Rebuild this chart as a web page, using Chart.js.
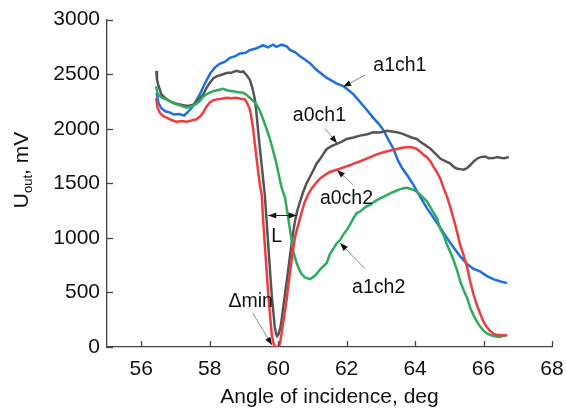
<!DOCTYPE html>
<html><head><meta charset="utf-8">
<script src="https://cdn.jsdelivr.net/npm/chart.js@4.4.0/dist/chart.umd.min.js"></script>
<style>html,body{margin:0;padding:0;background:#fff}#wrap{width:566px;height:414px}</style>
</head><body><div id="wrap"><canvas id="c" width="566" height="414"></canvas></div>
<script>
const xTicks = [56, 58, 60, 62, 64, 66, 68];
const yTicks = [0, 500, 1000, 1500, 2000, 2500, 3000];

const a1ch1X = [56.45,56.50,56.58,56.70,56.83,56.95,57.12,57.25,57.35,57.47,57.61,57.72,57.82,57.92,58.02,58.15,58.29,58.45,58.59,58.75,58.88,59.05,59.17,59.35,59.56,59.70,59.85,59.95,60.10,60.25,60.34,60.50,60.64,60.80,60.93,61.10,61.22,61.40,61.51,61.70,61.90,62.05,62.20,62.35,62.49,62.65,62.78,62.95,63.08,63.22,63.37,63.50,63.62,63.80,63.95,64.15,64.35,64.55,64.74,64.93,65.13,65.32,65.52,65.71,65.91,66.10,66.30,66.50,66.69];
const a1ch1Y = [2330,2240,2190,2160,2150,2130,2135,2120,2150,2190,2260,2320,2390,2450,2510,2560,2595,2615,2650,2665,2690,2695,2720,2735,2765,2745,2770,2750,2770,2755,2725,2700,2665,2630,2600,2545,2515,2470,2450,2415,2390,2355,2315,2260,2210,2150,2100,2040,1985,1900,1815,1710,1640,1560,1485,1375,1270,1180,1090,1000,910,830,760,715,690,650,620,600,585];

const a0ch1X = [56.44,56.46,56.50,56.59,56.70,56.83,56.95,57.12,57.30,57.42,57.52,57.61,57.72,57.81,57.90,58.00,58.10,58.20,58.35,58.49,58.65,58.78,58.90,58.98,59.08,59.17,59.25,59.32,59.37,59.42,59.47,59.52,59.57,59.61,59.66,59.71,59.76,59.81,59.86,59.90,59.94,59.97,60.01,60.06,60.10,60.15,60.20,60.25,60.29,60.34,60.39,60.44,60.49,60.56,60.64,60.73,60.83,60.93,61.03,61.12,61.22,61.32,61.42,61.56,61.71,61.85,62.00,62.20,62.39,62.60,62.78,62.98,63.18,63.32,63.47,63.62,63.76,63.90,64.05,64.15,64.30,64.44,64.60,64.74,64.90,65.03,65.13,65.23,65.32,65.42,65.52,65.61,65.71,65.81,65.91,66.05,66.15,66.30,66.40,66.49,66.60,66.74];
const a0ch1Y = [2530,2450,2400,2314,2280,2254,2235,2223,2210,2214,2220,2240,2280,2314,2370,2420,2460,2480,2495,2510,2515,2530,2520,2525,2490,2450,2370,2270,2130,1967,1810,1665,1510,1393,1170,940,710,487,320,184,120,100,115,170,245,370,487,600,698,820,940,1050,1151,1250,1332,1420,1500,1560,1620,1680,1720,1770,1815,1840,1861,1880,1906,1920,1937,1950,1967,1965,1982,1975,1967,1955,1937,1920,1906,1880,1850,1820,1770,1725,1700,1680,1650,1634,1630,1625,1640,1665,1700,1725,1740,1746,1730,1731,1740,1734,1730,1740];

const a0ch2X = [56.44,56.47,56.54,56.63,56.73,56.88,57.03,57.18,57.32,57.47,57.61,57.71,57.81,57.90,58.00,58.10,58.20,58.35,58.49,58.63,58.78,58.90,59.03,59.10,59.17,59.22,59.27,59.32,59.37,59.42,59.47,59.52,59.56,59.61,59.66,59.71,59.76,59.81,59.86,59.90,59.95,60.00,60.05,60.10,60.15,60.20,60.25,60.29,60.34,60.39,60.44,60.49,60.56,60.64,60.71,60.78,60.88,60.98,61.10,61.22,61.36,61.51,61.66,61.81,61.95,62.10,62.20,62.34,62.50,62.69,62.88,63.08,63.28,63.47,63.62,63.76,63.90,64.05,64.15,64.25,64.35,64.45,64.54,64.64,64.74,64.84,64.93,65.03,65.13,65.23,65.32,65.42,65.52,65.61,65.71,65.81,65.91,66.00,66.10,66.20,66.30,66.40,66.49,66.60,66.69];
const a0ch2Y = [2284,2200,2148,2120,2103,2080,2064,2070,2064,2075,2087,2110,2148,2200,2239,2260,2269,2275,2284,2280,2284,2275,2269,2230,2178,2100,1996,1860,1725,1600,1480,1393,1170,940,710,487,300,124,40,0,0,0,30,124,230,335,440,547,670,788,900,1000,1090,1181,1260,1332,1400,1453,1500,1543,1575,1604,1620,1634,1650,1665,1680,1695,1715,1740,1765,1785,1800,1815,1825,1831,1830,1815,1790,1760,1740,1700,1650,1600,1540,1450,1380,1280,1170,1050,930,840,730,600,480,380,300,230,180,145,120,110,109,105,110];

const a1ch2X = [56.44,56.47,56.54,56.63,56.73,56.88,57.03,57.18,57.32,57.42,57.51,57.61,57.71,57.80,57.90,58.00,58.10,58.25,58.39,58.53,58.68,58.83,58.98,59.08,59.17,59.27,59.37,59.47,59.56,59.66,59.76,59.86,59.95,60.03,60.10,60.20,60.27,60.34,60.44,60.52,60.59,60.68,60.78,60.93,61.02,61.12,61.22,61.32,61.42,61.51,61.61,61.71,61.81,61.90,62.00,62.10,62.20,62.30,62.39,62.50,62.59,62.69,62.80,62.98,63.10,63.27,63.40,63.57,63.66,63.76,63.85,63.95,64.05,64.15,64.25,64.35,64.45,64.54,64.64,64.74,64.84,64.93,65.03,65.13,65.23,65.32,65.42,65.52,65.61,65.71,65.81,65.91,66.00,66.10,66.20,66.30,66.39,66.50,66.60,66.69];
const a1ch2Y = [2390,2330,2299,2280,2269,2245,2223,2210,2193,2200,2209,2230,2254,2290,2314,2330,2344,2355,2365,2350,2344,2335,2329,2310,2284,2255,2223,2160,2087,2000,1906,1790,1680,1560,1460,1370,1230,1090,879,790,728,670,637,622,640,668,710,740,770,849,900,950,980,1030,1070,1121,1180,1230,1240,1270,1290,1302,1330,1362,1380,1408,1425,1447,1455,1459,1450,1440,1423,1395,1365,1332,1280,1230,1181,1080,1020,940,870,790,700,600,520,450,360,290,230,184,150,124,110,100,94,95,105,109];

function pts(xs, ys) { return xs.map((x, i) => ({ x: x, y: ys[i] })); }

const FONT = '"Liberation Sans", Arial, Helvetica, sans-serif';

// annotations in data coordinates
const labels = [
  { text: 'a1ch1', x: 62.78, y: 2574, from: [62.54, 2492], to: [61.90, 2384] },
  { text: 'a0ch1', x: 60.43, y: 2121, from: [61.37, 2003], to: [61.72, 1867] },
  { text: 'a0ch2', x: 61.22, y: 1359, from: [62.19, 1486], to: [61.72, 1622] },
  { text: 'a1ch2', x: 62.16, y: 544, from: [62.54, 716], to: [61.81, 952] },
  { text: '\u0394min', x: 58.55, y: 417, from: [59.26, 308], to: [59.82, 18] }
];
const lMark = { text: 'L', x: 59.96, y: 1015, y0: 1205, x0: 59.71, x1: 60.54 };

function arrowHead(ctx, x1, y1, x2, y2) {
  const a = Math.atan2(y2 - y1, x2 - x1);
  const L = 8, W = 3;
  ctx.beginPath();
  ctx.moveTo(x2, y2);
  ctx.lineTo(x2 - L * Math.cos(a) + W * Math.sin(a), y2 - L * Math.sin(a) - W * Math.cos(a));
  ctx.lineTo(x2 - L * Math.cos(a) - W * Math.sin(a), y2 - L * Math.sin(a) + W * Math.cos(a));
  ctx.closePath();
  ctx.fillStyle = '#111';
  ctx.fill();
}

const decorPlugin = {
  id: 'decor',
  afterDraw(chart) {
    const ctx = chart.ctx;
    const xs = chart.scales.x, ys = chart.scales.y;
    const area = chart.chartArea;
    ctx.save();
    // inward ticks
    ctx.strokeStyle = '#444';
    ctx.lineWidth = 1.3;
    xTicks.forEach(v => {
      const px = Math.round(xs.getPixelForValue(v)) + 0.5;
      ctx.beginPath(); ctx.moveTo(px, area.bottom); ctx.lineTo(px, area.bottom - 6); ctx.stroke();
    });
    yTicks.forEach(v => {
      const py = Math.round(ys.getPixelForValue(v)) + 0.5;
      ctx.beginPath(); ctx.moveTo(area.left, py); ctx.lineTo(area.left + 6, py); ctx.stroke();
    });
    // y title with subscript
    ctx.fillStyle = '#111';
    ctx.translate(28, 170);
    ctx.rotate(-Math.PI / 2);
    ctx.textBaseline = 'alphabetic';
    ctx.textAlign = 'left';
    const big = '21px ' + FONT, small = '13px ' + FONT;
    ctx.font = big; const wU = ctx.measureText('U').width;
    ctx.font = small; const wO = ctx.measureText('out').width;
    ctx.font = big; const wR = ctx.measureText(', mV').width;
    let sx = -(wU + wO + wR) / 2;
    ctx.font = big; ctx.fillText('U', sx, 0); sx += wU;
    ctx.font = small; ctx.fillText('out', sx, 4); sx += wO;
    ctx.font = big; ctx.fillText(', mV', sx, 0);
    ctx.restore();

    // annotations
    ctx.save();
    ctx.font = '19.5px ' + FONT;
    ctx.fillStyle = '#111';
    ctx.textBaseline = 'middle';
    ctx.textAlign = 'left';
    labels.forEach(l => {
      ctx.fillText(l.text, xs.getPixelForValue(l.x), ys.getPixelForValue(l.y));
      const x1 = xs.getPixelForValue(l.from[0]), y1 = ys.getPixelForValue(l.from[1]);
      const x2 = xs.getPixelForValue(l.to[0]), y2 = ys.getPixelForValue(l.to[1]);
      ctx.strokeStyle = '#8a8a8a'; ctx.lineWidth = 1;
      ctx.beginPath(); ctx.moveTo(x1, y1); ctx.lineTo(x2, y2); ctx.stroke();
      arrowHead(ctx, x1, y1, x2, y2);
    });
    ctx.textAlign = 'center';
    ctx.fillText(lMark.text, xs.getPixelForValue(lMark.x), ys.getPixelForValue(lMark.y));
    const lx0 = xs.getPixelForValue(lMark.x0), lx1 = xs.getPixelForValue(lMark.x1), ly = ys.getPixelForValue(lMark.y0);
    ctx.strokeStyle = '#222'; ctx.lineWidth = 1;
    ctx.beginPath(); ctx.moveTo(lx0, ly); ctx.lineTo(lx1, ly); ctx.stroke();
    arrowHead(ctx, (lx0 + lx1) / 2, ly, lx0, ly);
    arrowHead(ctx, (lx0 + lx1) / 2, ly, lx1, ly);
    ctx.restore();
  }
};

const common = { showLine: true, pointRadius: 0, borderWidth: 2.5, fill: false, tension: 0 };

new Chart(document.getElementById('c'), {
  type: 'scatter',
  data: {
    datasets: [
      Object.assign({ label: 'a0ch2', data: pts(a0ch2X, a0ch2Y), borderColor: '#f03c3c' }, common),
      Object.assign({ label: 'a1ch2', data: pts(a1ch2X, a1ch2Y), borderColor: '#2eab5c' }, common),
      Object.assign({ label: 'a0ch1', data: pts(a0ch1X, a0ch1Y), borderColor: '#555555' }, common),
      Object.assign({ label: 'a1ch1', data: pts(a1ch1X, a1ch1Y), borderColor: '#1f6fe0' }, common)
    ]
  },
  options: {
    responsive: false,
    animation: false,
    devicePixelRatio: 1,
    layout: { padding: { left: 0, right: 14, top: 16, bottom: 0 } },
    plugins: { legend: { display: false }, tooltip: { enabled: false } },
    scales: {
      x: {
        type: 'linear', min: 55, max: 68,
        afterBuildTicks(s) { s.ticks = xTicks.map(v => ({ value: v })); },
        afterFit(s) { s.height = 67; },
        grid: { display: false, drawTicks: true, tickLength: 9 },
        border: { display: true, color: '#444', width: 1.3 },
        ticks: { color: '#111', font: { family: FONT, size: 21 }, padding: 1, maxRotation: 0, callback: v => String(v) },
        title: { display: true, text: 'Angle of incidence, deg', color: '#111', font: { family: FONT, size: 21 }, padding: { top: 4, bottom: 4 } }
      },
      y: {
        type: 'linear', min: 0, max: 3000,
        afterBuildTicks(s) { s.ticks = yTicks.map(v => ({ value: v })); },
        afterFit(s) { s.width = 107; },
        grid: { display: false, drawTicks: false },
        border: { display: true, color: '#444', width: 1.3 },
        ticks: { color: '#111', font: { family: FONT, size: 21 }, padding: 7, callback: v => String(v) }
      }
    }
  },
  plugins: [decorPlugin]
});
</script>
</body></html>
